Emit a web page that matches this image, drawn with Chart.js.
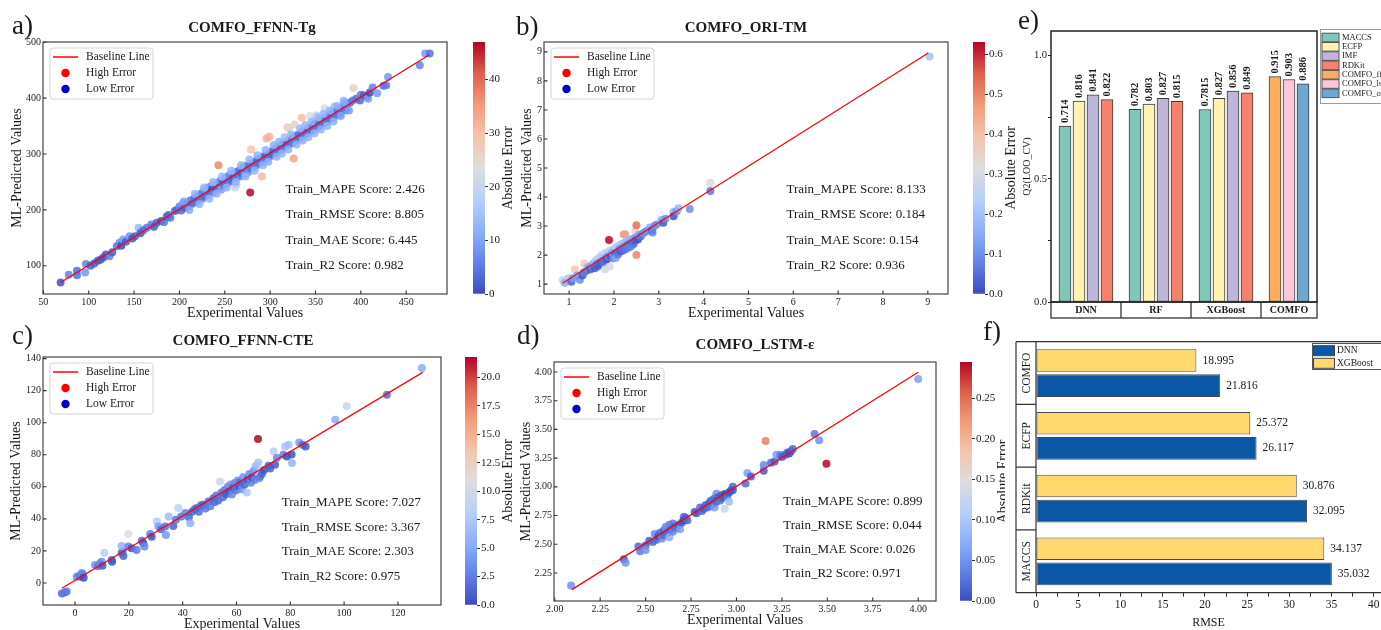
<!DOCTYPE html>
<html>
<head>
<meta charset="utf-8">
<script src="https://cdn.jsdelivr.net/npm/chart.js@4.4.1/dist/chart.umd.min.js"></script>
<style>
  html, body { margin: 0; padding: 0; background: #fff; overflow: hidden; }
  body { width: 1381px; height: 630px; position: relative; }
  canvas { position: absolute; }
</style>
</head>
<body>
<script>
// ---------- data ----------
// a) Tg: experimental vs predicted
const tgExp = [69,78,87,87,96,97,102,106,110,113, 116,119,123,126,131,134,136,138,141,145, 148,151,155,157,160,164,169,172,175,180, 183,186,188,190,195,197,200,202,204,206, 208,210,212,214,216,218,220,221,223,225, 226,228,229,231,232,234,235,236,238,239, 240,242,243,244,245,246,248,249,250,251, 253,254,255,256,258,259,260,261,262,263, 263,265,266,267,268,270,271,272,274,275, 276,278,278,279,279,281,282,284,285,287, 288,291,290,291,293,294,296,296,297,299, 299,300,302,303,305,306,308,309,311,312, 314,315,317,319,319,321,321,322,324,325, 326,327,328,327,330,332,334,335,335,337, 338,340,341,343,344,345,347,348,350,351, 352,354,355,357,358,360,360,362,364,365, 367,369,371,371,373,375,377,379,381,381, 383,385,388,391,392,395,399,400,403,406, 408,410,413,418,425,428,430,465,471,476, 205,211,217,222,227,233,237,241,247,252, 257,262,268,273,277,283,286,292,295,298, 304,307,310,313,316,320,323,329,333,336, 339,342,346,349,353,356,359,363,366,370, 374,378,382,387];
const tgPred = [70,84,91,83,88,103,100,104,109,111, 115,120,117,124,135,141,136,147,143,153, 149,153,168,158,163,168,174,170,177,180, 178,188,191,186,198,200,206,199,212,204, 210,206,217,211,220,214,224,218,228,220, 232,225,236,226,240,230,243,236,231,246, 238,248,280,240,252,236,250,244,256,247, 259,251,262,250,255,265,258,240,268,258, 245,262,271,260,266,276,268,263,279,272, 268,231,282,275,308,283,276,287,280,290, 284,260,292,286,296,289,328,298,293,331, 300,296,305,300,308,302,312,305,314,308, 318,311,321,348,316,346,325,318,328,320, 292,331,324,353,334,328,338,331,365,342, 334,344,337,347,368,341,351,344,354,369, 348,358,351,362,354,382,364,357,368,361, 371,365,385,375,369,379,372,383,387,396, 378,390,392,396,418,399,396,406,405,403, 399,410,419,409,422,423,438,459,480,480, 215,200,229,210,240,220,250,229,260,240, 270,250,280,260,290,270,298,280,307,286, 316,295,322,301,330,308,335,317,346,324, 352,330,358,337,366,344,372,350,378,358, 386,368,393,378];

// b) Tm
const tmExp = [0.86,0.9,0.98,1.05,1.08,1.13,1.18,1.24,1.3,1.32, 1.34,1.38,1.42,1.44,1.47,1.5,1.52,1.55,1.57,1.6, 1.62,1.64,1.66,1.68,1.7,1.72,1.74,1.75,1.77,1.8, 1.8,1.82,1.84,1.86,1.87,1.89,1.9,1.9,1.92,1.94, 1.96,1.98,2.0,2.02,2.04,2.05,2.07,2.09,2.1,2.12, 2.14,2.16,2.18,2.2,2.22,2.22,2.24,2.26,2.26,2.28, 2.3,2.32,2.34,2.36,2.38,2.4,2.42,2.44,2.46,2.48, 2.48,2.5,2.5,2.52,2.54,2.56,2.6,2.65,2.7,2.75, 2.8,2.85,2.86,2.9,2.95,3.06,3.1,3.15,3.33,3.33, 3.4,3.44,3.69,4.15,4.15,9.04];
const tmPred = [1.14,1.05,1.19,1.08,1.2,1.51,1.3,1.15,1.31,1.39, 1.71,1.45,1.6,1.54,1.5,1.65,1.6,1.72,1.55,1.83, 1.7,1.62,1.9,1.75,1.68,2.0,1.94,1.8,1.72,1.51, 2.08,1.9,1.85,2.06,1.95,2.52,1.6,2.15,1.98,1.94, 2.1,1.88,2.2,2.06,1.9,2.28,2.1,2.02,2.32,2.2, 2.12,2.38,2.25,2.16,2.71,2.42,2.3,2.71,2.2,2.46, 2.35,2.25,2.5,2.4,2.3,2.55,2.45,2.38,2.6,2.83, 2.5,3.03,2.0,2.62,2.55,2.7,2.65,2.75,2.8,2.85, 2.95,2.86,2.78,3.0,3.05,3.21,3.11,3.25,3.49,3.34, 3.5,3.61,3.59,4.49,4.21,8.84];

// c) CTE
const cteExp = [-4.9,-3.8,-3.1,0.6,1.5,1.9,2.5,2.9,3.2,7.4, 8.5,9.3,9.9,10.2,10.9,13.6,13.8,17.3,17.7,17.3, 18,19.8,19.8,21,22.9,24.8,25.4,25.8,27.9,28.5, 30.4,31,32,33.5,33.8,34.8,36.5,37.5,38.4,39.5, 41,42.3,42.8,43.5,44.5,45.2,46,46.8,47.7,48.5, 49.6,50.3,51.4,52,52.5,53.2,53.9,54.5,55,55.6, 56.2,56.8,57.3,57.8,58.3,58.8,59.4,59.9,60.5,61, 61.5,62,62.5,63,63.8,64.2,64.8,65.3,65.8,66.4, 66.8,67.2,68,68.1,68.5,68.8,69.5,70.2,71.9,72.5, 73.8,74.3,75,77.4,78.1,78.7,79.4,80.6,80.5,83.3, 84.5,85.7,96.7,101,115.9,128.9];
const ctePred = [-6.5,-6,-5.4,3.9,4.5,3.9,6.2,5.6,3.2,11.2, 10.5,12.3,13.3,10.8,18.9,14.4,13.2,18.5,19.6,23.1, 16.8,30.6,22.7,21.6,20.6,26.4,24.8,22.8,30.6,28.9, 38.3,35.2,33.5,35.2,30,41.4,35.6,39.5,46.7,41.5, 43.6,41,37.3,44.5,46,46.7,44.5,48.5,48.8,46.5, 50.8,47.8,52.9,50.5,54.5,51.5,63.3,56.5,53.5,58, 55.5,60,57,61.5,55.2,59.5,62.5,57.8,64,60.5, 63,58.5,66,61.5,56.4,64.5,68,62.5,66,70, 64.2,73,89.8,75.2,65.5,66.4,68.2,70.5,73.1,71.5, 82,73.8,77.9,80,85.2,78.9,86.3,74.8,80.2,87.7, 86.3,85.2,101.9,110.2,117.5,134.2];

// d) dielectric constant
const epsExp = [2.09,2.38,2.39,2.46,2.47,2.5,2.5,2.52,2.54,2.55, 2.56,2.57,2.58,2.59,2.6,2.6,2.61,2.62,2.63,2.63, 2.64,2.65,2.65,2.66,2.67,2.68,2.69,2.7,2.71,2.71, 2.72,2.73,2.77,2.78,2.8,2.81,2.82,2.83,2.84,2.85, 2.86,2.86,2.87,2.88,2.88,2.89,2.89,2.9,2.91,2.92, 2.92,2.93,2.935,2.94,2.95,2.96,2.96,2.97,2.98,2.98, 3.05,3.06,3.08,3.15,3.15,3.16,3.19,3.21,3.22,3.24, 3.25,3.27,3.28,3.29,3.3,3.31,3.43,3.455,3.495,4.0];
const epsPred = [2.14,2.37,2.34,2.48,2.44,2.49,2.45,2.53,2.52,2.59, 2.54,2.57,2.6,2.55,2.62,2.58,2.65,2.6,2.56,2.67, 2.63,2.61,2.68,2.65,2.64,2.67,2.63,2.69,2.74,2.71, 2.73,2.71,2.78,2.77,2.82,2.79,2.81,2.84,2.82,2.86, 2.83,2.88,2.85,2.9,2.82,2.87,2.94,2.91,2.88,2.93, 2.9,2.92,2.81,2.94,2.92,2.87,2.95,2.97,3.0,2.97, 3.03,3.12,3.09,3.14,3.19,3.4,3.21,3.22,3.28,3.28, 3.26,3.28,3.3,3.29,3.31,3.33,3.46,3.405,3.2,3.94];

// baseline end points [start, end]
const tgLineX = [69, 476], tgLineY = [70, 478];
const tmLineX = [0.86, 9.01], tmLineY = [1.04, 8.96];
const cteLineX = [-4.9, 129.2], cteLineY = [-3.3, 131.4];
const epsLineX = [2.094, 4.0], epsLineY = [2.105, 3.997];

const metricNames = ['MAPE', 'RMSE', 'MAE', 'R2'];
const tgScores = ['2.426', '8.805', '6.445', '0.982'];
const tmScores = ['8.133', '0.184', '0.154', '0.936'];
const cteScores = ['7.027', '3.367', '2.303', '0.975'];
const epsScores = ['0.899', '0.044', '0.026', '0.971'];

const tgXTicks = [50, 100, 150, 200, 250, 300, 350, 400, 450];
const tgYTicks = [100, 200, 300, 400, 500];
const tgErrTicks = [0, 10, 20, 30, 40];
const tmXTicks = [1, 2, 3, 4, 5, 6, 7, 8, 9];
const tmYTicks = [1, 2, 3, 4, 5, 6, 7, 8, 9];
const tmErrTicks = [0, 0.1, 0.2, 0.3, 0.4, 0.5, 0.6];
const cteXTicks = [0, 20, 40, 60, 80, 100, 120];
const cteYTicks = [0, 20, 40, 60, 80, 100, 120, 140];
const cteErrTicks = [0, 2.5, 5, 7.5, 10, 12.5, 15, 17.5, 20];
const epsXTicks = [2.0, 2.25, 2.5, 2.75, 3.0, 3.25, 3.5, 3.75, 4.0];
const epsYTicks = [2.25, 2.5, 2.75, 3.0, 3.25, 3.5, 3.75, 4.0];
const epsErrTicks = [0, 0.05, 0.1, 0.15, 0.2, 0.25];

const legendLabels = ['Baseline Line', 'High Error', 'Low Error'];

// e) Q2 (LOO-CV) per model group
const modelGroups = ['DNN', 'RF', 'XGBoost', 'COMFO'];
const featureSets = ['MACCS', 'ECFP', 'IMF', 'RDKit', 'COMFO_ffnn', 'COMFO_lstm', 'COMFO_ori'];
const q2Maccs = [0.714, 0.782, 0.7815, null];
const q2Ecfp = [0.816, 0.803, 0.827, null];
const q2Imf = [0.841, 0.827, 0.856, null];
const q2Rdkit = [0.822, 0.815, 0.849, null];
const q2Ffnn = [null, null, null, 0.915];
const q2Lstm = [null, null, null, 0.903];
const q2Ori = [null, null, null, 0.886];
const q2Ticks = [0, 0.25, 0.5, 0.75, 1.0];

// f) RMSE per fingerprint
const rmseFeatures = ['COMFO', 'ECFP', 'RDKit', 'MACCS'];
const rmseDnn = [21.816, 26.117, 32.095, 35.032];
const rmseXgb = [18.995, 25.372, 30.876, 34.137];
const rmseTicks = [0, 2.5, 5, 7.5, 10, 12.5, 15, 17.5, 20, 22.5, 25, 27.5, 30, 32.5, 35, 37.5, 40];

// ---------- helpers ----------
const serif = '"Liberation Serif", "Times New Roman", serif';
const ink = '#1a1a1a';
Chart.defaults.font.family = serif;
Chart.defaults.color = ink;

const coolwarmStops = [[59,76,192],[98,130,234],[141,176,254],[184,208,249],[221,221,221],[245,196,173],[244,154,123],[222,96,77],[180,4,38]];
function coolwarm(t, alpha) {
  t = Math.min(1, Math.max(0, t)) * 8;
  const i = Math.min(7, Math.floor(t)), f = t - i;
  const c = coolwarmStops[i].map((v, k) => Math.round(v + (coolwarmStops[i + 1][k] - v) * f));
  return `rgba(${c[0]},${c[1]},${c[2]},${alpha})`;
}

function makeCanvas(left, top, width, height) {
  const c = document.createElement('canvas');
  c.width = width; c.height = height;
  c.style.left = left + 'px'; c.style.top = top + 'px';
  c.style.width = width + 'px'; c.style.height = height + 'px';
  document.body.appendChild(c);
  return c;
}

const baseOpts = { responsive: false, animation: false, events: [], devicePixelRatio: 1 };

// frame, inward ticks, legend box, scores, title and panel letter
function scatterDeco(p) {
  return {
    id: 'scatterDeco',
    afterDatasetsDraw(chart) {
      const { ctx, chartArea: a, scales: { x, y } } = chart;
      ctx.save();
      ctx.strokeStyle = '#333';
      ctx.lineWidth = 1.1;
      ctx.strokeRect(a.left, a.top, a.width, a.height);
      ctx.beginPath();
      x.ticks.forEach(t => { const px = x.getPixelForValue(t.value); ctx.moveTo(px, a.bottom); ctx.lineTo(px, a.bottom - 3.5); });
      y.ticks.forEach(t => { const py = y.getPixelForValue(t.value); ctx.moveTo(a.left, py); ctx.lineTo(a.left + 3.5, py); });
      ctx.stroke();

      // legend
      const bx = a.left + 7, by = a.top + 6;
      ctx.beginPath();
      ctx.roundRect(bx, by, 103, 51, 3);
      ctx.fillStyle = 'rgba(255,255,255,0.85)';
      ctx.fill();
      ctx.strokeStyle = '#d4d4d4';
      ctx.lineWidth = 1;
      ctx.stroke();
      ctx.strokeStyle = '#ff0000';
      ctx.lineWidth = 1.5;
      ctx.beginPath(); ctx.moveTo(bx + 3, by + 9); ctx.lineTo(bx + 28, by + 9); ctx.stroke();
      ctx.fillStyle = '#ff0000';
      ctx.beginPath(); ctx.arc(bx + 15.5, by + 25, 4.2, 0, Math.PI * 2); ctx.fill();
      ctx.fillStyle = '#0000cc';
      ctx.beginPath(); ctx.arc(bx + 15.5, by + 41, 4.2, 0, Math.PI * 2); ctx.fill();
      ctx.fillStyle = ink;
      ctx.font = `11.5px ${serif}`;
      ctx.textAlign = 'left';
      ctx.textBaseline = 'middle';
      legendLabels.forEach((s, i) => ctx.fillText(s, bx + 36, by + 9 + 16 * i));

      // scores
      ctx.font = `13px ${serif}`;
      ctx.textBaseline = 'alphabetic';
      p.scores.forEach((v, i) => {
        ctx.fillText(`Train_${metricNames[i]} Score: ${v}`, a.left + 0.6 * a.width, a.bottom - (0.4 - 0.1 * i) * a.height);
      });

      ctx.font = `bold 15px ${serif}`;
      ctx.textAlign = 'center';
      ctx.textBaseline = 'middle';
      ctx.fillText(p.title, p.titleX, p.titleY);
      ctx.font = `27px ${serif}`;
      ctx.textAlign = 'left';
      ctx.fillText(p.tag, p.tagX, p.tagY);
      ctx.restore();
    }
  };
}

// colour bar drawn as a single gradient bar on its own value axis
function colorbar(box, vmax, ticks, digits) {
  const [left, top, h] = box;
  const canvas = makeCanvas(left, top - 10, 62, h + 20);
  new Chart(canvas, {
    type: 'bar',
    data: {
      labels: [''],
      datasets: [{
        data: [vmax],
        barPercentage: 1, categoryPercentage: 1, borderWidth: 0,
        backgroundColor: c => {
          const a = c.chart.chartArea;
          if (!a) return '#888';
          const g = c.chart.ctx.createLinearGradient(0, a.bottom, 0, a.top);
          coolwarmStops.forEach((s, i) => g.addColorStop(i / 8, `rgb(${s})`));
          return g;
        }
      }]
    },
    options: {
      ...baseOpts,
      layout: { padding: { top: 10, bottom: 10, left: 0, right: 0 } },
      plugins: { legend: { display: false }, tooltip: { enabled: false } },
      scales: {
        x: { display: false },
        y: {
          position: 'right', min: 0, max: vmax,
          afterFit: s => { s.width = 50; },
          afterBuildTicks: s => { s.ticks = ticks.map(value => ({ value })); },
          grid: { drawOnChartArea: false, drawTicks: true, tickLength: 3, color: '#333' },
          border: { display: false },
          ticks: { font: { size: 11 }, color: ink, padding: 1, callback: v => v.toFixed(digits) }
        }
      }
    },
    plugins: [{
      id: 'cbLabel',
      afterDraw(chart) {
        const { ctx, chartArea: a, scales: { y } } = chart;
        ctx.save();
        ctx.font = `11px ${serif}`;
        const w = Math.max(...y.ticks.map(t => ctx.measureText(t.label).width));
        ctx.translate(a.right + 4 + w + 8.5, (a.top + a.bottom) / 2);
        ctx.rotate(-Math.PI / 2);
        ctx.font = `14px ${serif}`;
        ctx.fillStyle = ink;
        ctx.textAlign = 'center';
        ctx.textBaseline = 'middle';
        ctx.fillText('Absolute Error', 0, 0);
        ctx.restore();
      }
    }]
  });
}

function scatterPanel(p) {
  const [left, top, width, height] = p.el;
  const canvas = makeCanvas(left, top, width, height);
  const errs = p.exp.map((v, i) => Math.abs(p.pred[i] - v));
  const vmax = Math.max(...errs);
  const tickFont = { size: 10 };
  const titleFont = { size: 14 };
  new Chart(canvas, {
    type: 'scatter',
    data: {
      datasets: [
        { type: 'line', data: p.lineX.map((x, i) => ({ x, y: p.lineY[i] })), borderColor: '#ff0000', borderWidth: 1.2, pointRadius: 0, order: 0 },
        { data: p.exp.map((x, i) => ({ x, y: p.pred[i] })), backgroundColor: errs.map(e => coolwarm(e / vmax, 0.85)), borderWidth: 0, pointRadius: 4, order: 1 }
      ]
    },
    options: {
      ...baseOpts,
      layout: { padding: { left: 0, top: p.padTop, right: 6, bottom: 0 } },
      plugins: { legend: { display: false }, tooltip: { enabled: false } },
      scales: {
        x: {
          type: 'linear', min: p.x[0], max: p.x[1],
          afterFit: s => { s.height = 32; },
          afterBuildTicks: s => { s.ticks = p.xTicks.map(value => ({ value })); },
          grid: { display: false, drawTicks: false }, border: { display: false },
          ticks: { font: tickFont, color: ink, padding: 2, maxRotation: 0, autoSkip: false, callback: v => v.toFixed(p.xDigits) },
          title: { display: true, text: 'Experimental Values', font: titleFont, color: ink, padding: { top: 0, bottom: 4 } }
        },
        y: {
          type: 'linear', min: p.y[0], max: p.y[1],
          afterFit: s => { s.width = 43; },
          afterBuildTicks: s => { s.ticks = p.yTicks.map(value => ({ value })); },
          grid: { display: false, drawTicks: false }, border: { display: false },
          ticks: { font: tickFont, color: ink, padding: 2, autoSkip: false, callback: v => v.toFixed(p.yDigits) },
          title: { display: true, text: 'ML-Predicted Values', font: titleFont, color: ink, padding: { top: p.yTitlePad, bottom: 0 } }
        }
      }
    },
    plugins: [scatterDeco(p)]
  });
  colorbar(p.cb, vmax, p.errTicks, p.errDigits);
}

// ---------- scatter panels a-d ----------
scatterPanel({ el: [0, 0, 453, 326], padTop: 42, exp: tgExp, pred: tgPred, lineX: tgLineX, lineY: tgLineY,
  x: [49.6, 495], y: [49.5, 500.5], xTicks: tgXTicks, yTicks: tgYTicks, xDigits: 0, yDigits: 0, yTitlePad: 8.6,
  title: 'COMFO_FFNN-Tg', titleX: 252, titleY: 28, tag: 'a)', tagX: 12, tagY: 27, scores: tgScores,
  errTicks: tgErrTicks, errDigits: 0, cb: [473, 42, 252] });

scatterPanel({ el: [501, 0, 453, 326], padTop: 42, exp: tmExp, pred: tmPred, lineX: tmLineX, lineY: tmLineY,
  x: [0.44, 9.45], y: [0.66, 9.34], xTicks: tmXTicks, yTicks: tmYTicks, xDigits: 0, yDigits: 0, yTitlePad: 18.1,
  title: 'COMFO_ORI-TM', titleX: 245, titleY: 28, tag: 'b)', tagX: 15, tagY: 28, scores: tmScores,
  errTicks: tmErrTicks, errDigits: 1, cb: [973, 42, 252] });

scatterPanel({ el: [0, 315, 447, 322], padTop: 42, exp: cteExp, pred: ctePred, lineX: cteLineX, lineY: cteLineY,
  x: [-11.9, 136], y: [-13.75, 141], xTicks: cteXTicks, yTicks: cteYTicks, xDigits: 0, yDigits: 0, yTitlePad: 8.3,
  title: 'COMFO_FFNN-CTE', titleX: 243, titleY: 26, tag: 'c)', tagX: 12, tagY: 22, scores: cteScores,
  errTicks: cteErrTicks, errDigits: 1, cb: [465, 357, 248] });

scatterPanel({ el: [511, 315, 431, 318], padTop: 47, exp: epsExp, pred: epsPred, lineX: epsLineX, lineY: epsLineY,
  x: [1.996, 4.098], y: [2.006, 4.087], xTicks: epsXTicks, yTicks: epsYTicks, xDigits: 2, yDigits: 2, yTitlePad: 7.4,
  title: 'COMFO_LSTM-\u03b5', titleX: 244, titleY: 30, tag: 'd)', tagX: 6, tagY: 22, scores: epsScores,
  errTicks: epsErrTicks, errDigits: 2, cb: [960, 362, 239] });

// ---------- e) Q2 bars ----------
const q2Table = [q2Maccs, q2Ecfp, q2Imf, q2Rdkit, q2Ffnn, q2Lstm, q2Ori];
const q2Colors = ['#80c6b9', '#fff2b2', '#bdb6d8', '#f7806f', '#fdad5e', '#fcc7da', '#6fa7d1'];
const groupSlots = 5, lastSlot = 19;

const q2Datasets = featureSets.map((name, s) => {
  const pts = [];
  q2Table[s].forEach((v, g) => {
    if (v === null) return;
    const k = q2Table.slice(0, s).filter(row => row[g] !== null).length;
    pts.push({ x: g * groupSlots + 1 + k, y: v });
  });
  return { label: name, data: pts, backgroundColor: q2Colors[s], borderColor: '#3c3c3c', borderWidth: 1,
           borderSkipped: false, barThickness: 12, grouped: false };
});

new Chart(makeCanvas(1000, 0, 381, 330), {
  type: 'bar',
  data: { datasets: q2Datasets },
  options: {
    ...baseOpts,
    layout: { padding: { left: 0, top: 31, right: 64, bottom: 28 } },
    plugins: { legend: { display: false }, tooltip: { enabled: false } },
    scales: {
      x: { type: 'linear', display: false, min: 0, max: lastSlot, offset: false },
      y: {
        min: 0, max: 1.1,
        afterFit: s => { s.width = 51; },
        afterBuildTicks: s => { s.ticks = q2Ticks.map(value => ({ value })); },
        grid: { drawOnChartArea: false, drawTicks: true, tickLength: 3, color: '#222' },
        border: { display: false },
        ticks: { font: { size: 10.5 }, color: ink, padding: 1, callback: v => (Math.round(v * 100) % 50 === 0 ? v.toFixed(1) : '') },
        title: { display: true, text: 'Q2(LOO_CV)', font: { size: 10 }, color: ink, padding: { top: 21.5, bottom: 0 } }
      }
    }
  },
  plugins: [{
    id: 'q2Deco',
    afterDraw(chart) {
      const { ctx, chartArea: a, scales: { x } } = chart;
      ctx.save();
      ctx.strokeStyle = '#222';
      ctx.lineWidth = 1.5;
      ctx.strokeRect(a.left, a.top, a.width, a.height);

      // group boxes under the axis
      ctx.lineWidth = 1.2;
      ctx.strokeRect(a.left, a.bottom, a.width, 16);
      ctx.font = `bold 10px ${serif}`;
      ctx.fillStyle = ink;
      ctx.textAlign = 'center';
      ctx.textBaseline = 'middle';
      modelGroups.forEach((g, i) => {
        const x0 = x.getPixelForValue(i * groupSlots);
        const x1 = x.getPixelForValue(Math.min((i + 1) * groupSlots, lastSlot));
        if (i > 0) { ctx.beginPath(); ctx.moveTo(x0, a.bottom); ctx.lineTo(x0, a.bottom + 16); ctx.stroke(); }
        ctx.fillText(g, (x0 + x1) / 2, a.bottom + 8.5);
      });

      // value labels above bars
      ctx.font = `bold 10.5px ${serif}`;
      ctx.textAlign = 'left';
      chart.data.datasets.forEach((ds, i) => {
        chart.getDatasetMeta(i).data.forEach((bar, j) => {
          ctx.save();
          ctx.translate(bar.x, bar.y - 3);
          ctx.rotate(-Math.PI / 2);
          ctx.fillText(String(ds.data[j].y), 0, 0);
          ctx.restore();
        });
      });

      // legend
      const lx = a.right + 3;
      ctx.strokeStyle = '#9a9a9a';
      ctx.lineWidth = 1;
      ctx.strokeRect(lx + 0.5, 29.5, 80, 74);
      ctx.font = `8.5px ${serif}`;
      featureSets.forEach((name, i) => {
        const yy = 37.5 + 9.3 * i;
        ctx.fillStyle = q2Colors[i];
        ctx.fillRect(lx + 2, yy - 4.3, 17, 8.6);
        ctx.strokeStyle = '#555';
        ctx.strokeRect(lx + 2, yy - 4.3, 17, 8.6);
        ctx.fillStyle = ink;
        ctx.fillText(name, lx + 22, yy);
      });

      ctx.font = `27px ${serif}`;
      ctx.fillText('e)', 18, 22);
      ctx.restore();
    }
  }]
});

// ---------- f) RMSE bars ----------
const dnnBlue = '#0b57a6', xgbYellow = '#ffd86e';
new Chart(makeCanvas(980, 320, 401, 310), {
  type: 'bar',
  data: {
    labels: rmseFeatures,
    datasets: [
      { label: 'XGBoost', data: rmseXgb, backgroundColor: xgbYellow, borderColor: '#4a4a4a', borderWidth: 1, borderSkipped: false },
      { label: 'DNN', data: rmseDnn, backgroundColor: dnnBlue, borderColor: '#4a4a4a', borderWidth: 1, borderSkipped: false }
    ]
  },
  options: {
    ...baseOpts,
    indexAxis: 'y',
    layout: { padding: { left: 56, top: 21.7, right: 0, bottom: 0 } },
    plugins: { legend: { display: false }, tooltip: { enabled: false } },
    scales: {
      y: { display: false },
      x: {
        min: 0, max: 40.85,
        afterFit: s => { s.height = 37.3; },
        afterBuildTicks: s => { s.ticks = rmseTicks.map(value => ({ value })); },
        grid: { drawOnChartArea: false, drawTicks: true, tickLength: 4, color: '#333' },
        border: { display: false },
        ticks: { font: { size: 11.5 }, color: ink, padding: 1, maxRotation: 0, autoSkip: false, callback: v => (v % 5 === 0 ? String(v) : '') },
        title: { display: true, text: 'RMSE', font: { size: 12 }, color: ink, padding: { top: 0, bottom: 0 } }
      }
    }
  },
  plugins: [{
    id: 'rmseDeco',
    beforeDraw(chart) {
      const { ctx, width, height } = chart;
      ctx.save();
      ctx.fillStyle = '#fff';
      ctx.fillRect(25, 0, width - 25, height);
      ctx.restore();
    },
    afterDraw(chart) {
      const { ctx, chartArea: a, scales: { y } } = chart;
      const colL = a.left - 20;
      ctx.save();
      ctx.strokeStyle = '#333';
      ctx.lineWidth = 1.2;
      ctx.beginPath();
      ctx.moveTo(colL, a.top); ctx.lineTo(a.right, a.top);
      ctx.moveTo(colL, a.bottom); ctx.lineTo(a.right, a.bottom);
      ctx.moveTo(colL, a.top); ctx.lineTo(colL, a.bottom);
      ctx.moveTo(a.left, a.top); ctx.lineTo(a.left, a.bottom);
      for (let i = 1; i < rmseFeatures.length; i++) {
        const yy = (y.getPixelForValue(i - 1) + y.getPixelForValue(i)) / 2;
        ctx.moveTo(colL, yy); ctx.lineTo(a.left, yy);
      }
      ctx.stroke();

      ctx.fillStyle = ink;
      ctx.font = `11.5px ${serif}`;
      ctx.textAlign = 'center';
      ctx.textBaseline = 'middle';
      rmseFeatures.forEach((name, i) => {
        ctx.save();
        ctx.translate(colL + 10.5, y.getPixelForValue(i));
        ctx.rotate(-Math.PI / 2);
        ctx.fillText(name, 0, 0);
        ctx.restore();
      });

      ctx.textAlign = 'left';
      chart.data.datasets.forEach((ds, i) => {
        chart.getDatasetMeta(i).data.forEach((bar, j) => {
          ctx.fillText(ds.data[j].toFixed(3), bar.x + 6, bar.y);
        });
      });

      // legend
      ctx.strokeStyle = '#555';
      ctx.lineWidth = 1;
      ctx.strokeRect(332.5, 23.5, 70, 26);
      ctx.font = `9.5px ${serif}`;
      [['DNN', dnnBlue], ['XGBoost', xgbYellow]].forEach(([name, col], i) => {
        const yy = 30.7 + 12.6 * i;
        ctx.fillStyle = col;
        ctx.fillRect(333.5, yy - 5, 21, 10);
        ctx.strokeStyle = '#444';
        ctx.strokeRect(333.5, yy - 5, 21, 10);
        ctx.fillStyle = ink;
        ctx.fillText(name, 357, yy);
      });

      ctx.font = `27px ${serif}`;
      ctx.fillText('f)', 3, 13);
      ctx.restore();
    }
  }]
});
</script>
</body>
</html>
